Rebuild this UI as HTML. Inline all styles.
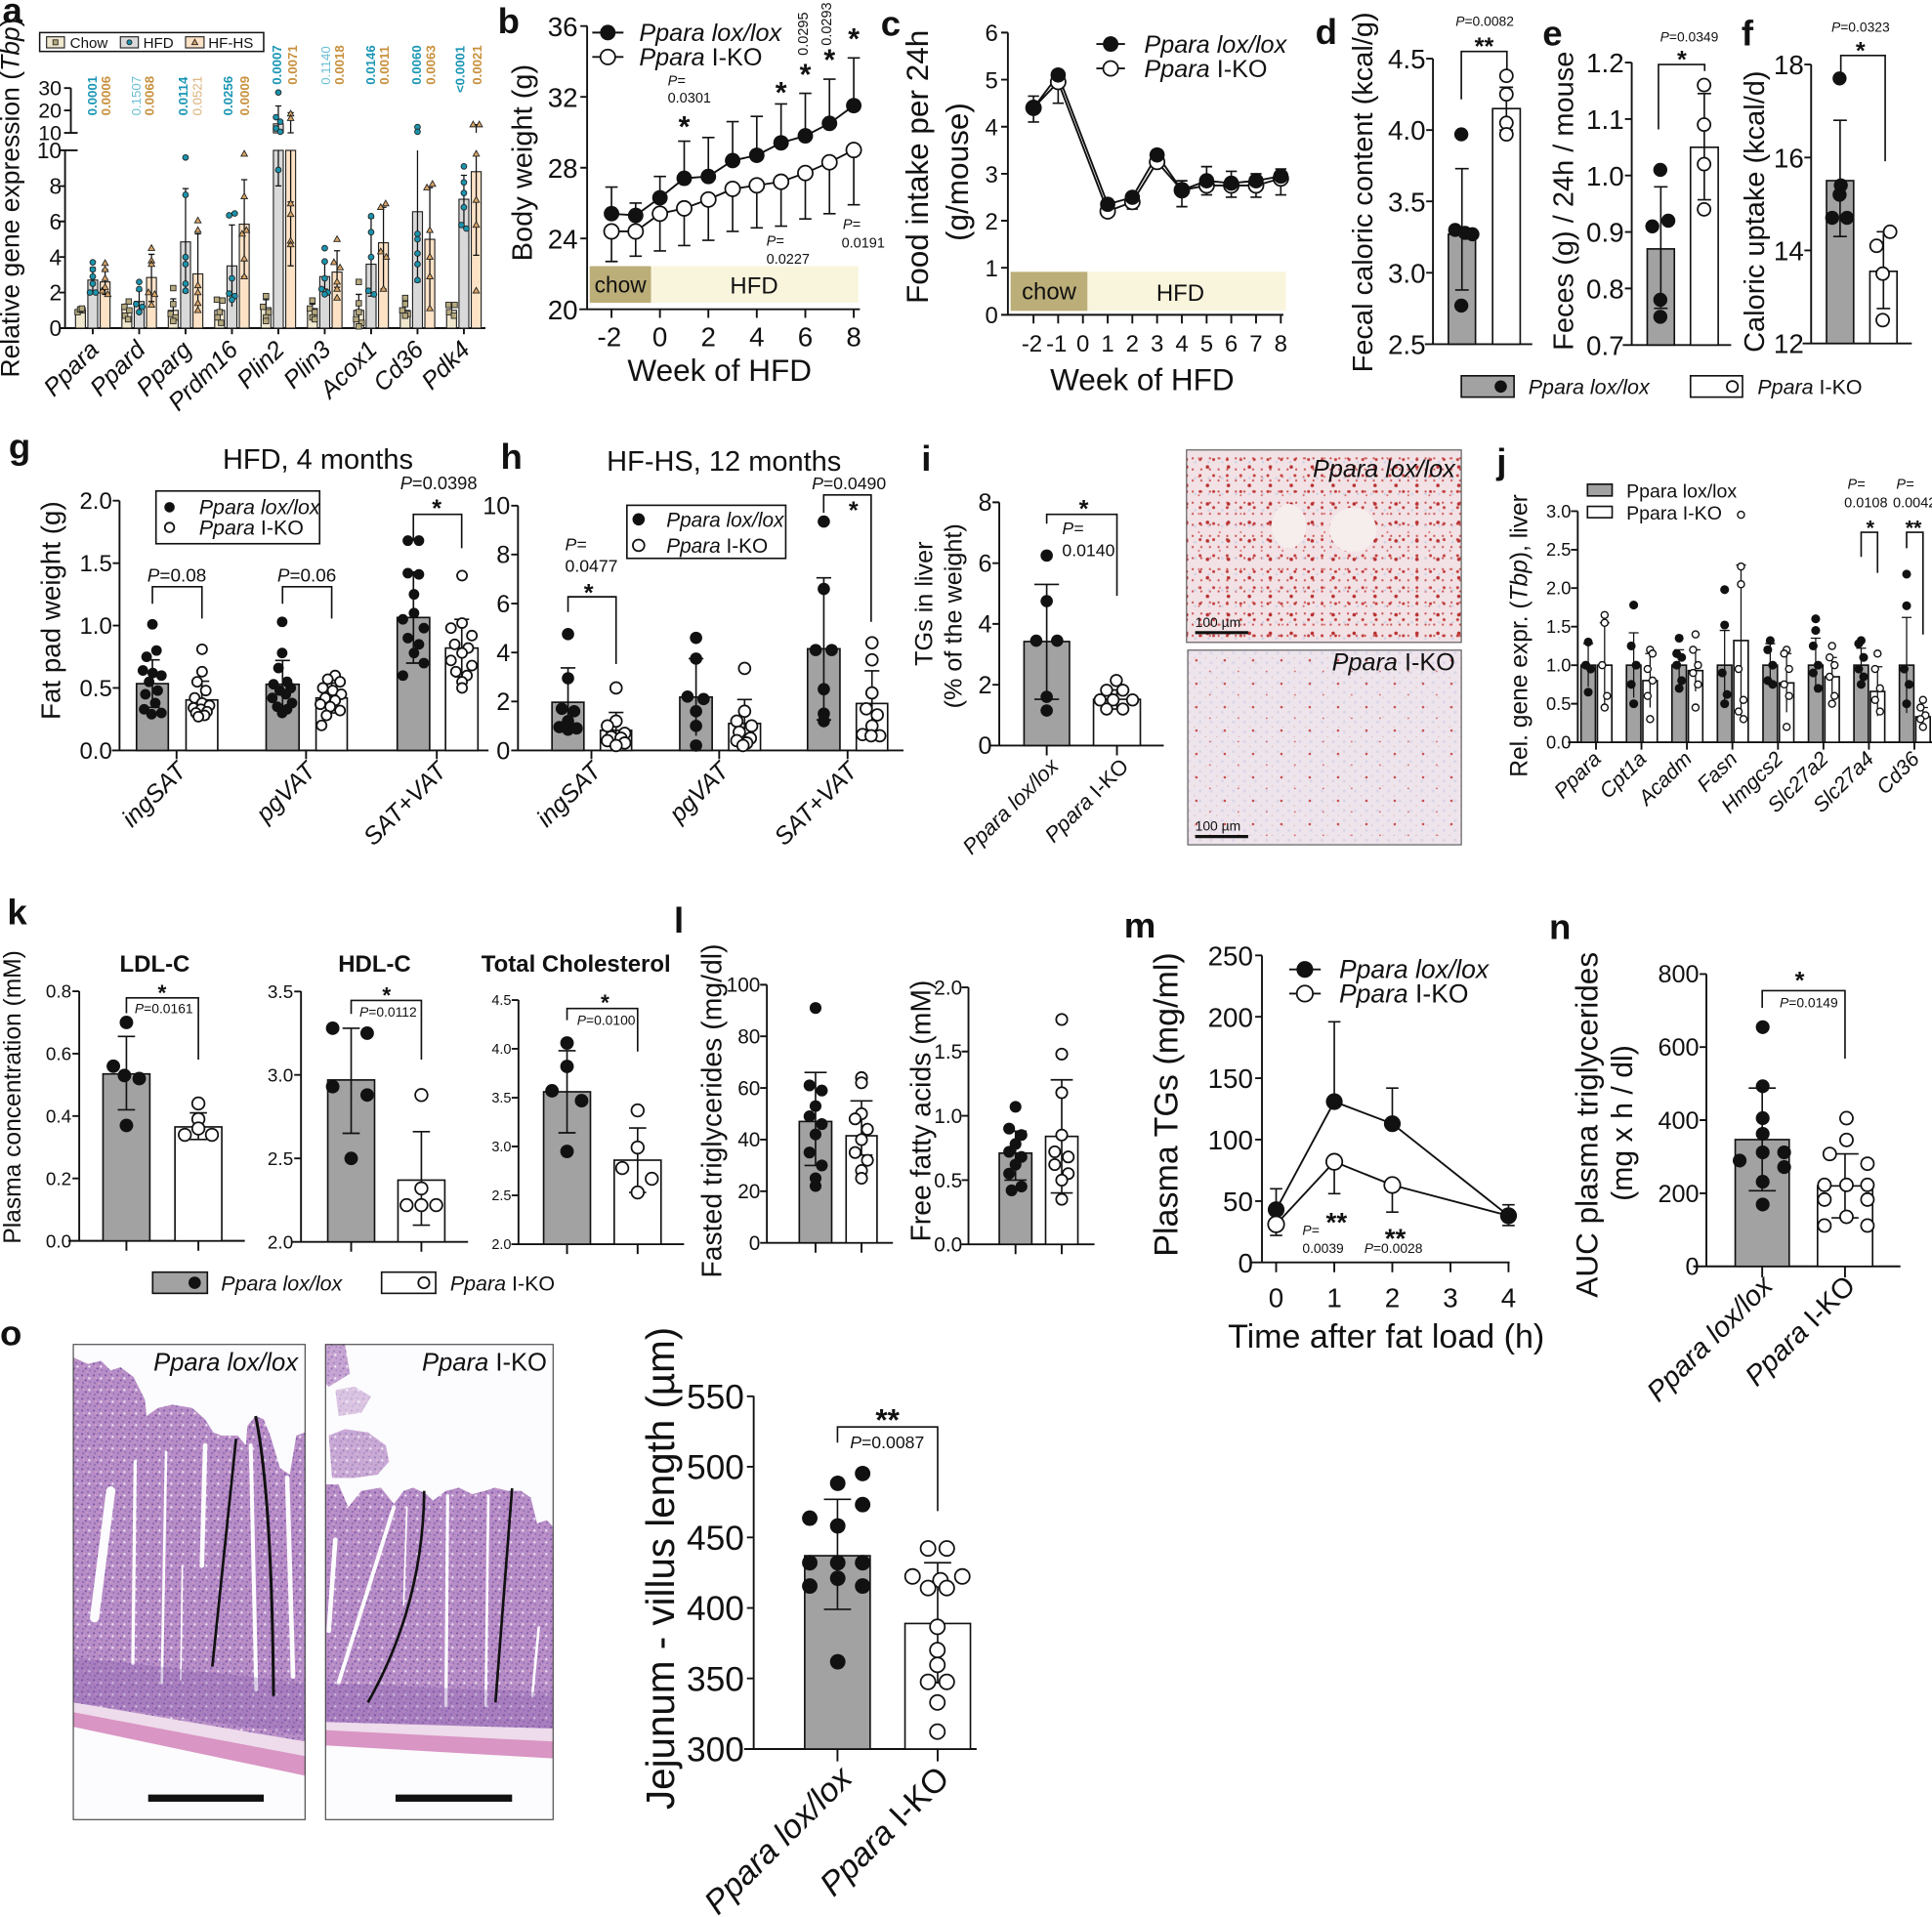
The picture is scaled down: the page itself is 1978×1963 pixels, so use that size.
<!DOCTYPE html>
<html><head><meta charset="utf-8"><style>
html,body{margin:0;padding:0;background:#fff;}
svg{display:block;}
text{font-family:"Liberation Sans",Arial,sans-serif;fill:#111;}
.pl{font-size:29px;font-weight:bold;}
.ax{stroke:#111;stroke-width:1.5;fill:none;}
.e{stroke:#111;stroke-width:1.3;fill:none;}
.ea{stroke:#111;stroke-width:1;fill:none;}
.f{fill:#111;}
.o{fill:#fff;stroke:#111;stroke-width:1.4;}
.oj{fill:#fff;stroke:#111;stroke-width:1.1;}
.g{fill:#a2a2a2;stroke:#111;stroke-width:1.3;}
.w{fill:#fff;stroke:#111;stroke-width:1.3;}
.it{font-style:italic;}
.sq{fill:#b5a97e;stroke:#222;stroke-width:.7;}
.cy{fill:#1a93ad;stroke:#222;stroke-width:.7;}
.tr{fill:#d9a466;stroke:#222;stroke-width:.7;}
.cb{fill:#efe8cf;stroke:#222;stroke-width:.9;}
.hb{fill:#d9d9d9;stroke:#222;stroke-width:.9;}
.pb{fill:#fde2c6;stroke:#222;stroke-width:.9;}
.ln{stroke:#111;stroke-width:1.5;fill:none;}
.br{stroke:#111;stroke-width:1.3;fill:none;}
</style></head><body>
<svg width="1978" height="1963" viewBox="0 0 1568 1556" xmlns="http://www.w3.org/2000/svg">
<defs>
<pattern id="lv1" width="7" height="9" patternUnits="userSpaceOnUse">
<rect width="7" height="9" fill="#f2e2e5"/>
<circle cx="2" cy="3" r="0.9" fill="#cc5656"/>
</pattern>
<pattern id="lv1b" width="11" height="13" patternUnits="userSpaceOnUse">
<circle cx="6" cy="9" r="1.2" fill="#c23e3e"/>
<circle cx="2" cy="11" r="1" fill="#ccd2e6"/>
</pattern>
<pattern id="lv1c" width="17" height="15" patternUnits="userSpaceOnUse">
<circle cx="11" cy="4" r="1.4" fill="#b83030"/>
<circle cx="4" cy="12" r="0.8" fill="#d77070"/>
</pattern>
<pattern id="lv2" width="9" height="8" patternUnits="userSpaceOnUse">
<rect width="9" height="8" fill="#eee4eb"/>
<circle cx="2" cy="2" r="1.2" fill="#dad6e9"/>
<circle cx="6.5" cy="6" r="0.5" fill="#dcaab0"/>
</pattern>
<pattern id="lv2b" width="23" height="19" patternUnits="userSpaceOnUse">
<circle cx="5" cy="4" r="1" fill="#c64c4c"/>
<circle cx="16" cy="13" r="0.7" fill="#cf6060"/>
</pattern>
<pattern id="he" width="36" height="36" patternUnits="userSpaceOnUse">
<rect width="36" height="36" fill="#b78dc7"/>
<circle cx="6" cy="7" r="3" fill="#74509f"/>
<circle cx="24" cy="5" r="2.6" fill="#7e5aa8"/>
<circle cx="17" cy="22" r="3" fill="#74509f"/>
<circle cx="31" cy="27" r="2.4" fill="#8460ac"/>
<circle cx="9" cy="30" r="2.6" fill="#7e5aa8"/>
<circle cx="28" cy="16" r="3.5" fill="#f0e6f2"/>
<circle cx="12" cy="15" r="3" fill="#d7a0ca"/>
<circle cx="22" cy="32" r="2.5" fill="#d49dc7"/>
</pattern>
</defs>
<rect width="1568" height="1556" fill="#fff"/>

<!-- ================= PANEL A ================= -->
<text x="2" y="18" class="pl">a</text>
<text transform="translate(15.5,160.5) rotate(-90)" text-anchor="middle" font-size="21">Relative gene expression (<tspan font-style="italic">Tbp</tspan>)</text>
<rect x="32.2" y="26.4" width="181.8" height="15.3" fill="#fff" stroke="#111" stroke-width="1.2"/>
<rect class="cb" x="37.8" y="29.8" width="14.5" height="9"/><rect class="sq" x="43" y="32.3" width="4" height="4"/>
<text x="56.8" y="38.8" font-size="12">Chow</text>
<rect class="hb" x="97.7" y="29.8" width="14.6" height="9"/><circle class="cy" cx="105" cy="34.3" r="2"/>
<text x="116.2" y="38.8" font-size="12">HFD</text>
<rect class="pb" x="150.6" y="29.8" width="15" height="9"/><path class="tr" d="M158.1,31.8l2.4,4.4h-4.8z"/>
<text x="169" y="38.8" font-size="12">HF-HS</text>
<path class="ax" d="M57.5,71.4V107.8M52,71.4h5.5M52,89.6h5.5M52,107.8h11M52.8,122V266.3M48,122h15M48,151h4.8M48,179.7h4.8M48,208.6h4.8M48,237.4h4.8M48,266.3H394M75.3,266.3v5M112.95,266.3v5M150.6,266.3v5M188.25,266.3v5M225.9,266.3v5M263.55,266.3v5M301.2,266.3v5M338.85,266.3v5M376.5,266.3v5"/>
<g font-size="17" text-anchor="end"><text x="50" y="77.4">30</text><text x="50" y="95.6">20</text><text x="50" y="113.8">10</text></g>
<g font-size="18" text-anchor="end"><text x="50" y="128.5">10</text><text x="50" y="157.4">8</text><text x="50" y="186.2">6</text><text x="50" y="215.1">4</text><text x="50" y="243.9">2</text><text x="50" y="272.8">0</text></g>
<!-- bars -->
<rect class="cb" x="61.3" y="251.9" width="8" height="14.4"/><rect class="hb" x="71.3" y="227.3" width="8" height="39"/><rect class="pb" x="81.3" y="228.8" width="8" height="37.5"/>
<rect class="cb" x="98.95" y="251.1" width="8" height="15.2"/><rect class="hb" x="108.95" y="244.7" width="8" height="21.6"/><rect class="pb" x="118.95" y="225.2" width="8" height="41.1"/>
<rect class="cb" x="136.6" y="251.9" width="8" height="14.4"/><rect class="hb" x="146.6" y="196.3" width="8" height="70"/><rect class="pb" x="156.6" y="222.3" width="8" height="44"/>
<rect class="cb" x="174.25" y="251.9" width="8" height="14.4"/><rect class="hb" x="184.25" y="215.8" width="8" height="50.5"/><rect class="pb" x="194.25" y="181.9" width="8" height="84.4"/>
<rect class="cb" x="211.9" y="249.7" width="8" height="16.6"/><rect class="hb" x="221.9" y="122" width="8" height="144.3"/><rect class="pb" x="231.9" y="122" width="8" height="144.3"/><rect class="hb" x="221.9" y="100.5" width="8" height="7.3"/>
<rect class="cb" x="249.55" y="250.4" width="8" height="15.9"/><rect class="hb" x="259.55" y="224.5" width="8" height="41.8"/><rect class="pb" x="269.55" y="220.8" width="8" height="45.5"/>
<rect class="cb" x="287.2" y="251.9" width="8" height="14.4"/><rect class="hb" x="297.2" y="214.4" width="8" height="51.9"/><rect class="pb" x="307.2" y="197" width="8" height="69.3"/>
<rect class="cb" x="324.85" y="251.9" width="8" height="14.4"/><rect class="hb" x="334.85" y="171.8" width="8" height="94.5"/><rect class="pb" x="344.85" y="194.2" width="8" height="72.1"/>
<rect class="cb" x="362.5" y="251.9" width="8" height="14.4"/><rect class="hb" x="372.5" y="161.7" width="8" height="104.6"/><rect class="pb" x="382.5" y="139.3" width="8" height="127"/>
<path class="ea" d="M65.3,254V249.7M62.8,249.7h5M75.3,237.4V217.2M72.8,217.2h5M72.8,237.4h5M85.3,238.9V218.7M82.8,218.7h5M82.8,238.9h5
M103,256.2V246.8M100.5,246.8h5M112.95,254V236M110.45,236h5M122.95,244.7V206.4M120.45,206.4h5M120.45,244.7h5
M140.6,259.1V242.5M138.1,242.5h5M150.6,237.4V153M148.1,153h5M148.1,237.4h5M160.6,251.9V189.8M158.1,189.8h5
M178.25,259.1V244.7M175.75,244.7h5M188.25,249V182.6M185.75,182.6h5M198.25,224.5V145.8M195.75,145.8h5M195.75,224.5h5
M215.9,256.2V243.2M213.4,243.2h5M225.9,150.9V122M223.4,150.9h5M225.9,107.8V86M223.4,86h5M235.9,215.8V122M233.4,215.8h5M233.4,163.8h5M235.9,107.8V91.4M233.4,91.4h5M233.4,107.8h5
M253.55,256.2V246.8M251.05,246.8h5M263.55,234.6V212.9M261.05,212.9h5M261.05,234.6h5M273.55,233.1V203.5M271.05,203.5h5M271.05,233.1h5
M291.2,262V238.9M288.7,238.9h5M301.2,240.3V176.8M298.7,176.8h5M298.7,240.3h5M311.2,234.6V168.2M308.7,168.2h5M308.7,234.6h5
M328.85,257.6V246.1M326.35,246.1h5M338.85,228.8V122M336.35,228.8h5M348.85,251.9V152.3M346.35,152.3h5M346.35,251.9h5
M366.5,256.2V247.5M364,247.5h5M376.5,184V142.2M374,142.2h5M374,184h5M386.5,207.1V122M384,207.1h5M386.5,107.8V101.1M384,101.1h5"/>
<!-- squares -->
<g class="sq">
<rect x="60.8" y="251.1" width="4.4" height="4.4"/><rect x="64.8" y="249.7" width="4.4" height="4.4"/><rect x="62.8" y="248.9" width="4.4" height="4.4"/><rect x="64.3" y="248.2" width="4.4" height="4.4"/>
<rect x="102.3" y="242.5" width="4.4" height="4.4"/><rect x="98.8" y="246.8" width="4.4" height="4.4"/><rect x="102.8" y="249.7" width="4.4" height="4.4"/><rect x="99.3" y="254" width="4.4" height="4.4"/><rect x="101.8" y="256.9" width="4.4" height="4.4"/>
<rect x="138.4" y="231.6" width="4.4" height="4.4"/><rect x="138.4" y="244.6" width="4.4" height="4.4"/><rect x="136.3" y="252.6" width="4.4" height="4.4"/><rect x="140.3" y="255.4" width="4.4" height="4.4"/><rect x="138.4" y="258.3" width="4.4" height="4.4"/>
<rect x="173.8" y="241" width="4.4" height="4.4"/><rect x="178.3" y="241.7" width="4.4" height="4.4"/><rect x="176.05" y="251.1" width="4.4" height="4.4"/><rect x="174.3" y="255.4" width="4.4" height="4.4"/><rect x="177.3" y="259.8" width="4.4" height="4.4"/>
<rect x="213.7" y="238.1" width="4.4" height="4.4"/><rect x="211.3" y="246.8" width="4.4" height="4.4"/><rect x="215.8" y="251.1" width="4.4" height="4.4"/><rect x="213.7" y="255.4" width="4.4" height="4.4"/><rect x="213.7" y="258.3" width="4.4" height="4.4"/>
<rect x="251.35" y="241.7" width="4.4" height="4.4"/><rect x="249.3" y="248.2" width="4.4" height="4.4"/><rect x="253.3" y="251.1" width="4.4" height="4.4"/><rect x="251.35" y="255.4" width="4.4" height="4.4"/><rect x="253.3" y="256.9" width="4.4" height="4.4"/>
<rect x="289" y="226.6" width="4.4" height="4.4"/><rect x="289" y="243.9" width="4.4" height="4.4"/><rect x="289" y="251.1" width="4.4" height="4.4"/><rect x="286.8" y="256.9" width="4.4" height="4.4"/><rect x="291.3" y="259.8" width="4.4" height="4.4"/><rect x="289" y="262.7" width="4.4" height="4.4"/>
<rect x="326.65" y="239.6" width="4.4" height="4.4"/><rect x="326.65" y="244.6" width="4.4" height="4.4"/><rect x="324.3" y="249.7" width="4.4" height="4.4"/><rect x="328.8" y="252.6" width="4.4" height="4.4"/><rect x="326.65" y="254" width="4.4" height="4.4"/>
<rect x="361.8" y="245.3" width="4.4" height="4.4"/><rect x="366.8" y="245.3" width="4.4" height="4.4"/><rect x="362.3" y="251.1" width="4.4" height="4.4"/><rect x="366.3" y="254" width="4.4" height="4.4"/>
</g>
<!-- circles -->
<g class="cy">
<circle cx="75.3" cy="212.9" r="2.3"/><circle cx="75.3" cy="218.7" r="2.3"/><circle cx="75.3" cy="224.5" r="2.3"/><circle cx="75.3" cy="230.2" r="2.3"/><circle cx="73" cy="237.4" r="2.3"/><circle cx="77.6" cy="237.4" r="2.3"/>
<circle cx="112.95" cy="228.8" r="2.3"/><circle cx="112.95" cy="234.6" r="2.3"/><circle cx="110.5" cy="246.8" r="2.3"/><circle cx="115.5" cy="249" r="2.3"/><circle cx="112.95" cy="253.3" r="2.3"/>
<circle cx="150.6" cy="127.8" r="2.3"/><circle cx="150.6" cy="158.1" r="2.3"/><circle cx="150.6" cy="208.6" r="2.3"/><circle cx="150.6" cy="214.4" r="2.3"/><circle cx="150.6" cy="230.2" r="2.3"/><circle cx="150.6" cy="236" r="2.3"/>
<circle cx="186" cy="174.7" r="2.3"/><circle cx="190.5" cy="173.2" r="2.3"/><circle cx="188.25" cy="225.9" r="2.3"/><circle cx="186" cy="238.2" r="2.3"/><circle cx="190.5" cy="240.3" r="2.3"/><circle cx="188.25" cy="243.2" r="2.3"/>
<circle cx="225.9" cy="137.9" r="2.3"/><circle cx="225.9" cy="75" r="2.3"/><circle cx="224" cy="95.1" r="2.3"/><circle cx="227.5" cy="98.7" r="2.3"/><circle cx="224" cy="104.2" r="2.3"/><circle cx="227.5" cy="106.9" r="2.3"/>
<circle cx="263.55" cy="201.4" r="2.3"/><circle cx="263.55" cy="212.2" r="2.3"/><circle cx="263.55" cy="225.9" r="2.3"/><circle cx="261" cy="234.6" r="2.3"/><circle cx="266" cy="237.4" r="2.3"/><circle cx="263.55" cy="238.9" r="2.3"/>
<circle cx="301.2" cy="175.4" r="2.3"/><circle cx="301.2" cy="188.4" r="2.3"/><circle cx="301.2" cy="208.6" r="2.3"/><circle cx="299" cy="236" r="2.3"/><circle cx="303.5" cy="238.9" r="2.3"/>
<circle cx="338.85" cy="189.8" r="2.3"/><circle cx="338.85" cy="194.2" r="2.3"/><circle cx="338.85" cy="205.7" r="2.3"/><circle cx="338.85" cy="214.4" r="2.3"/><circle cx="338.85" cy="227.3" r="2.3"/><circle cx="338.85" cy="103.1" r="2.3"/><circle cx="338.85" cy="106.9" r="2.3"/>
<circle cx="376.5" cy="135" r="2.3"/><circle cx="376.5" cy="148" r="2.3"/><circle cx="376.5" cy="156.6" r="2.3"/><circle cx="376.5" cy="168.2" r="2.3"/><circle cx="374.5" cy="182.6" r="2.3"/><circle cx="378.5" cy="185.5" r="2.3"/>
</g>
<!-- triangles -->
<path class="tr" d="M85.3,210.8l2.6,4.6h-5.2zM85.3,215.9l2.6,4.6h-5.2zM85.3,223.1l2.6,4.6h-5.2zM85.3,230.3l2.6,4.6h-5.2zM83,233.2l2.6,4.6h-5.2zM87.5,236.1l2.6,4.6h-5.2z
M122.95,198.6l2.6,4.6h-5.2zM122.95,208.7l2.6,4.6h-5.2zM122.95,211.6l2.6,4.6h-5.2zM120.5,234.6l2.6,4.6h-5.2zM125.5,236.1l2.6,4.6h-5.2zM122.95,244.7l2.6,4.6h-5.2z
M160.6,176.2l2.6,4.6h-5.2zM160.6,184.1l2.6,4.6h-5.2zM160.6,228.9l2.6,4.6h-5.2zM160.6,234.6l2.6,4.6h-5.2zM160.6,243.3l2.6,4.6h-5.2zM160.6,249.1l2.6,4.6h-5.2z
M198.25,122.1l2.6,4.6h-5.2zM198.25,156.7l2.6,4.6h-5.2zM200,184.1l2.6,4.6h-5.2zM196.5,187l2.6,4.6h-5.2zM198.25,207.2l2.6,4.6h-5.2zM198.25,221.7l2.6,4.6h-5.2z
M235.9,162.5l2.6,4.6h-5.2zM235.9,171.1l2.6,4.6h-5.2zM235.9,192.8l2.6,4.6h-5.2zM235.9,195.7l2.6,4.6h-5.2zM235.9,89.5l2.6,4.6h-5.2zM235.9,93.2l2.6,4.6h-5.2z
M273.55,191.4l2.6,4.6h-5.2zM271,210.1l2.6,4.6h-5.2zM276,214.4l2.6,4.6h-5.2zM273.55,226l2.6,4.6h-5.2zM273.55,231.8l2.6,4.6h-5.2zM273.55,239l2.6,4.6h-5.2z
M313,162.5l2.6,4.6h-5.2zM309,165.4l2.6,4.6h-5.2zM309,201.4l2.6,4.6h-5.2zM313.5,205.8l2.6,4.6h-5.2zM311.2,231.8l2.6,4.6h-5.2z
M351,146.6l2.6,4.6h-5.2zM346.5,149.5l2.6,4.6h-5.2zM348.85,184.1l2.6,4.6h-5.2zM348.85,205.8l2.6,4.6h-5.2zM348.85,221.7l2.6,4.6h-5.2zM348.85,247.6l2.6,4.6h-5.2z
M386.5,122.1l2.6,4.6h-5.2zM386.5,159.6l2.6,4.6h-5.2zM386.5,179.8l2.6,4.6h-5.2zM386.5,233.2l2.6,4.6h-5.2zM384,98.3l2.6,4.6h-5.2zM389,98.3l2.6,4.6h-5.2z"/>
<!-- p values -->
<g font-size="10.5">
<text transform="translate(78.6,93.8) rotate(-90)" style="fill:#1a96b4" font-weight="bold">0.0001</text>
<text transform="translate(89.7,93.8) rotate(-90)" style="fill:#c8903c" font-weight="bold">0.0006</text>
<text transform="translate(114.2,93.8) rotate(-90)" style="fill:#6cc0d4">0.1507</text>
<text transform="translate(124.8,93.8) rotate(-90)" style="fill:#c8903c" font-weight="bold">0.0068</text>
<text transform="translate(152.3,93.8) rotate(-90)" style="fill:#1a96b4" font-weight="bold">0.0114</text>
<text transform="translate(163.6,93.8) rotate(-90)" style="fill:#dab27a">0.0521</text>
<text transform="translate(188.8,93.8) rotate(-90)" style="fill:#1a96b4" font-weight="bold">0.0256</text>
<text transform="translate(202,93.8) rotate(-90)" style="fill:#c8903c" font-weight="bold">0.0009</text>
<text transform="translate(228.4,68.7) rotate(-90)" style="fill:#1a96b4" font-weight="bold">0.0007</text>
<text transform="translate(241.1,68.7) rotate(-90)" style="fill:#c8903c" font-weight="bold">0.0071</text>
<text transform="translate(268,68.7) rotate(-90)" style="fill:#6cc0d4">0.1140</text>
<text transform="translate(279.1,68.7) rotate(-90)" style="fill:#c8903c" font-weight="bold">0.0018</text>
<text transform="translate(304.5,68.7) rotate(-90)" style="fill:#1a96b4" font-weight="bold">0.0146</text>
<text transform="translate(315.6,68.7) rotate(-90)" style="fill:#c8903c" font-weight="bold">0.0011</text>
<text transform="translate(341.5,68.7) rotate(-90)" style="fill:#1a96b4" font-weight="bold">0.0060</text>
<text transform="translate(353.1,68.7) rotate(-90)" style="fill:#c8903c" font-weight="bold">0.0063</text>
<text transform="translate(376.9,75.3) rotate(-90)" style="fill:#1a96b4" font-weight="bold">&lt;0.0001</text>
<text transform="translate(390.9,68.7) rotate(-90)" style="fill:#c8903c" font-weight="bold">0.0021</text>
</g>
<g class="it" font-size="20" text-anchor="end">
<text transform="translate(81.3,285) rotate(-45)">Ppara</text>
<text transform="translate(119,285) rotate(-45)">Ppard</text>
<text transform="translate(156.6,285) rotate(-45)">Pparg</text>
<text transform="translate(194.3,285) rotate(-45)">Prdm16</text>
<text transform="translate(231.9,285) rotate(-45)">Plin2</text>
<text transform="translate(269.6,285) rotate(-45)">Plin3</text>
<text transform="translate(307.2,285) rotate(-45)">Acox1</text>
<text transform="translate(344.9,285) rotate(-45)">Cd36</text>
<text transform="translate(382.5,285) rotate(-45)">Pdk4</text>
</g>

<!-- ================= PANEL B ================= -->
<text x="404" y="27" class="pl">b</text>
<text transform="translate(431.7,132) rotate(-90)" text-anchor="middle" font-size="23">Body weight (g)</text>
<rect x="478.6" y="216" width="49.8" height="29.7" fill="#bcae78"/>
<rect x="528.4" y="216" width="168.2" height="29.7" fill="#f9f5dd"/>
<text x="503.5" y="237.5" font-size="18" text-anchor="middle">chow</text>
<text x="612" y="238" font-size="19" text-anchor="middle">HFD</text>
<path class="ax" d="M476.5,21V251M471,21.1h5.5M471,78.6h5.5M471,136.1h5.5M471,193.5h5.5M471,251h5.5M470.2,251H697.9M496.3,251v7M535.6,251v7M574.9,251v7M614.2,251v7M653.6,251v7M692.9,251v7"/>
<g font-size="22" text-anchor="end"><text x="469" y="29.1">36</text><text x="469" y="86.6">32</text><text x="469" y="144.1">28</text><text x="469" y="201.5">24</text><text x="469" y="259">20</text></g>
<g font-size="22" text-anchor="middle"><text x="494.5" y="281">-2</text><text x="535.6" y="281">0</text><text x="574.9" y="281">2</text><text x="614.2" y="281">4</text><text x="653.6" y="281">6</text><text x="692.9" y="281">8</text></g>
<text x="584" y="309" font-size="25" text-anchor="middle">Week of HFD</text>
<path class="e" d="M496.3,173.4V151.8M491.3,151.8h10M515.9,174.8V164.8M510.9,164.8h10M535.6,160.5V143.2M530.6,143.2h10M555.3,144.7V114.5M550.3,114.5h10M574.9,143.2V111.6M569.9,111.6h10M594.6,130.3V98.7M589.6,98.7h10M614.2,126V94.4M609.2,94.4h10M633.9,115.9V84.3M628.9,84.3h10M653.6,110.2V75.7M648.6,75.7h10M673.2,100.1V64.2M668.2,64.2h10M692.9,85.7V47M687.9,47h10"/>
<path class="e" d="M496.3,187.8V212.2M491.3,212.2h10M515.9,187.8V207.9M510.9,207.9h10M535.6,173.4V203.6M530.6,203.6h10M555.3,169.1V199.3M550.3,199.3h10M574.9,161.9V195M569.9,195h10M594.6,153.3V187.8M589.6,187.8h10M614.2,150.4V184.9M609.2,184.9h10M633.9,147.5V183.5M628.9,183.5h10M653.6,140.4V177.7M648.6,177.7h10M673.2,131.7V173.4M668.2,173.4h10M692.9,121.7V166.2M687.9,166.2h10"/>
<polyline class="ln" points="496.3,173.4 515.9,174.8 535.6,160.5 555.3,144.7 574.9,143.2 594.6,130.3 614.2,126 633.9,115.9 653.6,110.2 673.2,100.1 692.9,85.7"/>
<polyline class="ln" points="496.3,187.8 515.9,187.8 535.6,173.4 555.3,169.1 574.9,161.9 594.6,153.3 614.2,150.4 633.9,147.5 653.6,140.4 673.2,131.7 692.9,121.7"/>
<g class="f"><circle cx="496.3" cy="173.4" r="6.3"/><circle cx="515.9" cy="174.8" r="6.3"/><circle cx="535.6" cy="160.5" r="6.3"/><circle cx="555.3" cy="144.7" r="6.3"/><circle cx="574.9" cy="143.2" r="6.3"/><circle cx="594.6" cy="130.3" r="6.3"/><circle cx="614.2" cy="126" r="6.3"/><circle cx="633.9" cy="115.9" r="6.3"/><circle cx="653.6" cy="110.2" r="6.3"/><circle cx="673.2" cy="100.1" r="6.3"/><circle cx="692.9" cy="85.7" r="6.3"/></g>
<g class="o"><circle cx="496.3" cy="187.8" r="6"/><circle cx="515.9" cy="187.8" r="6"/><circle cx="535.6" cy="173.4" r="6"/><circle cx="555.3" cy="169.1" r="6"/><circle cx="574.9" cy="161.9" r="6"/><circle cx="594.6" cy="153.3" r="6"/><circle cx="614.2" cy="150.4" r="6"/><circle cx="633.9" cy="147.5" r="6"/><circle cx="653.6" cy="140.4" r="6"/><circle cx="673.2" cy="131.7" r="6"/><circle cx="692.9" cy="121.7" r="6"/></g>
<g font-size="24" font-weight="bold" text-anchor="middle"><text x="555.3" y="110.8">*</text><text x="633.9" y="83">*</text><text x="653.6" y="68.5">*</text><text x="673.2" y="56.6">*</text><text x="692.9" y="39.4">*</text></g>
<g font-size="11.5"><text x="541.9" y="69.2" class="it">P=</text><text x="541.9" y="83.2">0.0301</text><text x="622" y="199.5" class="it">P=</text><text x="622" y="214">0.0227</text><text x="684" y="185.7" class="it">P=</text><text x="683" y="200.8">0.0191</text>
<text transform="translate(655.5,45) rotate(-90)">0.0295</text><text transform="translate(674.5,37) rotate(-90)">0.0293</text></g>
<path class="ln" d="M480.7,26.4H506M480.7,46.2H506"/>
<circle class="f" cx="493.3" cy="26.4" r="6.3"/><circle class="o" cx="493.3" cy="46.2" r="6"/>
<text x="518.7" y="33.4" font-size="20" class="it">Ppara lox/lox</text>
<text x="518.7" y="53.2" font-size="20"><tspan font-style="italic">Ppara</tspan> I-KO</text>

<!-- ================= PANEL C ================= -->
<text x="714.8" y="29" class="pl">c</text>
<text transform="translate(753,135.4) rotate(-90)" text-anchor="middle" font-size="25">Food intake per 24h</text>
<text transform="translate(785.5,139.5) rotate(-90)" text-anchor="middle" font-size="25">(g/mouse)</text>
<rect x="820.2" y="220.6" width="62.4" height="31.7" fill="#bcae78"/>
<rect x="882.6" y="220.6" width="161.1" height="31.7" fill="#f9f5dd"/>
<text x="851.4" y="243" font-size="19" text-anchor="middle">chow</text>
<text x="958" y="244" font-size="19" text-anchor="middle">HFD</text>
<path class="ax" d="M818,26.4V255.5M812.5,26.4h5.5M812.5,64.6h5.5M812.5,102.8h5.5M812.5,141h5.5M812.5,179.1h5.5M812.5,217.3h5.5M812.5,255.5h5.5M813.9,255.5H1041.6M838.8,255.5v7M858.8,255.5v7M878.9,255.5v7M899,255.5v7M919,255.5v7M939.1,255.5v7M959.2,255.5v7M979.3,255.5v7M999.3,255.5v7M1019.4,255.5v7M1039.5,255.5v7"/>
<g font-size="19" text-anchor="end"><text x="810" y="33.4">6</text><text x="810" y="71.6">5</text><text x="810" y="109.8">4</text><text x="810" y="148">3</text><text x="810" y="186.1">2</text><text x="810" y="224.3">1</text><text x="810" y="262.5">0</text></g>
<g font-size="19" text-anchor="middle"><text x="837.5" y="285.5">-2</text><text x="857.5" y="285.5">-1</text><text x="878.9" y="285.5">0</text><text x="899" y="285.5">1</text><text x="919" y="285.5">2</text><text x="939.1" y="285.5">3</text><text x="959.2" y="285.5">4</text><text x="979.3" y="285.5">5</text><text x="999.3" y="285.5">6</text><text x="1019.4" y="285.5">7</text><text x="1039.5" y="285.5">8</text></g>
<text x="927" y="316.5" font-size="25" text-anchor="middle">Week of HFD</text>
<path class="e" d="M838.8,99V78M834.3,78h9M834.3,99h9M858.8,83.7V57M854.3,57h9M854.3,83.7h9M899,171.5V162M894.5,162h9M894.5,171.5h9M919,169.6V158.1M914.5,158.1h9M914.5,169.6h9M939.1,133.3V121.9M934.6,121.9h9M934.6,133.3h9M959.2,167.7V146.7M954.7,146.7h9M954.7,167.7h9M979.3,158.1V135.2M974.8,135.2h9M974.8,158.1h9M999.3,160V139M994.8,139h9M994.8,160h9M1019.4,160V141M1014.9,141h9M1014.9,160h9M1039.5,158.1V137.1M1035,137.1h9M1035,158.1h9"/>
<polyline class="ln" points="838.8,87.5 858.8,66.5 899,171.5 919,163.9 939.1,131.4 959.2,154.3 979.3,150.5 999.3,150.5 1019.4,150.5 1039.5,144.8"/>
<polyline class="ln" points="838.8,87.5 858.8,60.8 899,165.8 919,160.1 939.1,125.7 959.2,154.3 979.3,146.7 999.3,148.6 1019.4,146.7 1039.5,142.9"/>
<g class="o"><circle cx="838.8" cy="87.5" r="6"/><circle cx="858.8" cy="66.5" r="6"/><circle cx="899" cy="171.5" r="6"/><circle cx="919" cy="163.9" r="6"/><circle cx="939.1" cy="131.4" r="6"/><circle cx="959.2" cy="154.3" r="6"/><circle cx="979.3" cy="150.5" r="6"/><circle cx="999.3" cy="150.5" r="6"/><circle cx="1019.4" cy="150.5" r="6"/><circle cx="1039.5" cy="144.8" r="6"/></g>
<g class="f"><circle cx="838.8" cy="87.5" r="6.2"/><circle cx="858.8" cy="60.8" r="6.2"/><circle cx="899" cy="165.8" r="6.2"/><circle cx="919" cy="160.1" r="6.2"/><circle cx="939.1" cy="125.7" r="6.2"/><circle cx="959.2" cy="154.3" r="6.2"/><circle cx="979.3" cy="146.7" r="6.2"/><circle cx="999.3" cy="148.6" r="6.2"/><circle cx="1019.4" cy="146.7" r="6.2"/><circle cx="1039.5" cy="142.9" r="6.2"/></g>
<path class="ln" d="M889.8,35.7H913M889.8,55.5H913"/>
<circle class="f" cx="901.4" cy="35.7" r="6.3"/><circle class="o" cx="901.4" cy="55.5" r="6"/>
<text x="928.6" y="42.7" font-size="20" class="it">Ppara lox/lox</text>
<text x="928.6" y="62.5" font-size="20"><tspan font-style="italic">Ppara</tspan> I-KO</text>

<!-- ================= PANEL D ================= -->
<text x="1067.5" y="35.7" class="pl">d</text>
<text transform="translate(1113.7,156) rotate(-90)" text-anchor="middle" font-size="23">Fecal caloric content (kcal/g)</text>
<path class="ax" d="M1163,47.6V279.3M1157.5,47.6h5.5M1157.5,105.5h5.5M1157.5,163.4h5.5M1157.5,221.4h5.5M1157.5,279.3h5.5M1156.4,279.3H1243.6"/>
<g font-size="22" text-anchor="end"><text x="1157" y="55.6">4.5</text><text x="1157" y="113.5">4.0</text><text x="1157" y="171.4">3.5</text><text x="1157" y="229.4">3.0</text><text x="1157" y="287.3">2.5</text></g>
<rect class="g" x="1175.5" y="190.1" width="22" height="89.2"/>
<rect class="w" x="1211.4" y="88.1" width="22.4" height="191.2"/>
<path class="e" d="M1186.5,235.3V136.8M1181,136.8h11M1181,235.3h11M1222.6,105.5V70.8M1217,70.8h11M1217,105.5h11"/>
<g class="f"><circle cx="1186" cy="109" r="5.7"/><circle cx="1181" cy="186.6" r="5.7"/><circle cx="1189" cy="189" r="5.7"/><circle cx="1195" cy="190.1" r="5.7"/><circle cx="1186" cy="248" r="5.7"/></g>
<g class="o"><circle cx="1222.6" cy="61.5" r="5.2"/><circle cx="1222.6" cy="76.5" r="5.2"/><circle cx="1222.6" cy="99.7" r="5.2"/><circle cx="1222.6" cy="109" r="5.2"/></g>
<path class="br" d="M1186,80.6V41.7H1223V56.8"/>
<text x="1204.5" y="44.4" font-size="20" font-weight="bold" text-anchor="middle">**</text>
<text x="1205" y="21.1" font-size="11" text-anchor="middle"><tspan font-style="italic">P</tspan>=0.0082</text>

<!-- ================= PANEL E ================= -->
<text x="1251.9" y="37" class="pl">e</text>
<text transform="translate(1276.7,163) rotate(-90)" text-anchor="middle" font-size="23">Feces (g) / 24h / mouse</text>
<path class="ax" d="M1324.3,50.7V280M1318.8,50.7h5.5M1318.8,96.6h5.5M1318.8,142.4h5.5M1318.8,188.3h5.5M1318.8,234.1h5.5M1318.8,280h5.5M1317,280H1405"/>
<g font-size="22" text-anchor="end"><text x="1318" y="58.7">1.2</text><text x="1318" y="104.6">1.1</text><text x="1318" y="150.4">1.0</text><text x="1318" y="196.3">0.9</text><text x="1318" y="242.1">0.8</text><text x="1318" y="288">0.7</text></g>
<rect class="g" x="1336.9" y="202" width="22" height="78"/>
<rect class="w" x="1372" y="119.5" width="22.5" height="160.5"/>
<path class="e" d="M1347.9,250.2V151.6M1342.4,151.6h11M1342.4,250.2h11M1383.2,162.1V75.9M1377.7,75.9h11M1377.7,162.1h11"/>
<g class="f"><circle cx="1347.5" cy="137.8" r="5.7"/><circle cx="1341" cy="183.7" r="5.7"/><circle cx="1354" cy="179.1" r="5.7"/><circle cx="1347.5" cy="243.3" r="5.7"/><circle cx="1347.5" cy="257.1" r="5.7"/></g>
<g class="o"><circle cx="1383" cy="69" r="5.2"/><circle cx="1383" cy="101.1" r="5.2"/><circle cx="1383" cy="133.2" r="5.2"/><circle cx="1383" cy="169.9" r="5.2"/></g>
<path class="br" d="M1346,105V52.3H1383.5V57.6"/>
<text x="1365" y="55" font-size="20" font-weight="bold" text-anchor="middle">*</text>
<text x="1371" y="33.8" font-size="11" text-anchor="middle"><tspan font-style="italic">P</tspan>=0.0349</text>

<!-- ================= PANEL F ================= -->
<text x="1413.3" y="37" class="pl">f</text>
<text transform="translate(1431.5,171.7) rotate(-90)" text-anchor="middle" font-size="23">Caloric uptake (kcal/d)</text>
<path class="ax" d="M1469.9,52.3V278.7M1464.4,52.3h5.5M1464.4,127.8h5.5M1464.4,203.2h5.5M1464.4,278.7h5.5M1463,278.7H1551.6"/>
<g font-size="22" text-anchor="end"><text x="1464" y="60.3">18</text><text x="1464" y="135.8">16</text><text x="1464" y="211.2">14</text><text x="1464" y="286.7">12</text></g>
<rect class="g" x="1482.4" y="146.6" width="22" height="132.1"/>
<rect class="w" x="1517.6" y="220.2" width="22" height="58.5"/>
<path class="e" d="M1493.4,191.9V97.6M1487.9,97.6h11M1487.9,191.9h11M1528.6,250.4V188.1M1523.1,188.1h11M1523.1,250.4h11"/>
<g class="f"><circle cx="1493" cy="63.6" r="5.7"/><circle cx="1494" cy="150.4" r="5.7"/><circle cx="1493" cy="158" r="5.7"/><circle cx="1487" cy="176.8" r="5.7"/><circle cx="1499" cy="176.8" r="5.7"/></g>
<g class="o"><circle cx="1534" cy="188.1" r="5.2"/><circle cx="1523" cy="199.5" r="5.2"/><circle cx="1528" cy="222.1" r="5.2"/><circle cx="1528" cy="259.8" r="5.2"/></g>
<path class="br" d="M1494,60.8V45H1530V130.8"/>
<text x="1510" y="48" font-size="20" font-weight="bold" text-anchor="middle">*</text>
<text x="1510" y="25.9" font-size="11" text-anchor="middle"><tspan font-style="italic">P</tspan>=0.0323</text>
<!-- legend d-f -->
<rect class="g" x="1186" y="305" width="42.8" height="17.3"/><circle class="f" cx="1218" cy="313.7" r="5"/>
<text x="1240.4" y="320" font-size="17" class="it">Ppara lox/lox</text>
<rect class="w" x="1372" y="305" width="42.2" height="17.3"/><circle class="o" cx="1406" cy="313.7" r="4.5"/>
<text x="1426.4" y="320" font-size="17"><tspan font-style="italic">Ppara</tspan> I-KO</text>

<!-- ================= PANEL G ================= -->
<text x="7" y="372" class="pl">g</text>
<text x="258" y="380.5" font-size="23" text-anchor="middle">HFD, 4 months</text>
<text transform="translate(48.6,495.5) rotate(-90)" text-anchor="middle" font-size="22">Fat pad weight (g)</text>
<path class="ax" d="M97,406.4V609.1M91.5,406.4h5.5M91.5,457.1h5.5M91.5,507.7h5.5M91.5,558.4h5.5M91.5,609.1h5.5M90.8,609.1H396.5M143.3,609.1v7M248.4,609.1v7M354.5,609.1v7"/>
<g font-size="19" text-anchor="end"><text x="91" y="413.1">2.0</text><text x="91" y="463.8">1.5</text><text x="91" y="514.4">1.0</text><text x="91" y="565.1">0.5</text><text x="91" y="615.8">0.0</text></g>
<rect class="g" x="110.8" y="554.9" width="25.8" height="54.2"/><rect class="w" x="151" y="568.1" width="25.7" height="41"/>
<rect class="g" x="216" y="555.4" width="26.7" height="53.7"/><rect class="w" x="256.5" y="566.5" width="25.3" height="42.6"/>
<rect class="g" x="322.4" y="501.2" width="26.3" height="107.9"/><rect class="w" x="361.6" y="526" width="26.3" height="83.1"/>
<path class="e" d="M123.7,574.1V535.6M117.7,535.6h12M117.7,574.1h12M163.85,583.3V552.9M157.85,552.9h12M157.85,583.3h12M229.35,574.6V536.1M223.35,536.1h12M223.35,574.6h12M269.15,578.7V554.4M263.15,554.4h12M263.15,578.7h12M335.55,538.2V464.2M329.55,464.2h12M329.55,538.2h12M374.75,549.3V502.7M368.75,502.7h12M368.75,549.3h12"/>
<g class="f">
<circle cx="123.7" cy="506.7" r="4.3"/><circle cx="127" cy="528" r="4.3"/><circle cx="119" cy="533.1" r="4.3"/><circle cx="116" cy="544.2" r="4.3"/><circle cx="124" cy="546.3" r="4.3"/><circle cx="131" cy="548.3" r="4.3"/><circle cx="121" cy="553.4" r="4.3"/><circle cx="128" cy="560.5" r="4.3"/><circle cx="118" cy="563.5" r="4.3"/><circle cx="126" cy="570.6" r="4.3"/><circle cx="117" cy="575.7" r="4.3"/><circle cx="131" cy="578.7" r="4.3"/><circle cx="123" cy="579.7" r="4.3"/>
<circle cx="229" cy="504.7" r="4.3"/><circle cx="229" cy="530" r="4.3"/><circle cx="226" cy="542.2" r="4.3"/><circle cx="233" cy="553.4" r="4.3"/><circle cx="222" cy="555.4" r="4.3"/><circle cx="236" cy="558.4" r="4.3"/><circle cx="227" cy="560.5" r="4.3"/><circle cx="232" cy="563.5" r="4.3"/><circle cx="221" cy="566.5" r="4.3"/><circle cx="237" cy="570.6" r="4.3"/><circle cx="225" cy="573.6" r="4.3"/><circle cx="233" cy="575.7" r="4.3"/><circle cx="229" cy="578.7" r="4.3"/>
<circle cx="331" cy="438.8" r="4.3"/><circle cx="340" cy="438.8" r="4.3"/><circle cx="331" cy="465.2" r="4.3"/><circle cx="340" cy="466.2" r="4.3"/><circle cx="336" cy="482.4" r="4.3"/><circle cx="336" cy="497.6" r="4.3"/><circle cx="327" cy="502.7" r="4.3"/><circle cx="344" cy="509.8" r="4.3"/><circle cx="331" cy="517.9" r="4.3"/><circle cx="340" cy="523" r="4.3"/><circle cx="336" cy="530" r="4.3"/><circle cx="344" cy="538.2" r="4.3"/><circle cx="327" cy="548.3" r="4.3"/>
</g>
<g class="o">
<circle cx="164" cy="527" r="4"/><circle cx="164" cy="545.2" r="4"/><circle cx="160" cy="553.4" r="4"/><circle cx="167" cy="560.5" r="4"/><circle cx="158" cy="566.5" r="4"/><circle cx="164" cy="570.6" r="4"/><circle cx="170" cy="572.6" r="4"/><circle cx="157" cy="574.6" r="4"/><circle cx="163" cy="575.7" r="4"/><circle cx="168" cy="577.7" r="4"/><circle cx="159" cy="578.7" r="4"/><circle cx="166" cy="580.7" r="4"/><circle cx="161" cy="581.7" r="4"/>
<circle cx="272" cy="548.3" r="4"/><circle cx="266" cy="551.3" r="4"/><circle cx="276" cy="553.4" r="4"/><circle cx="262" cy="558.4" r="4"/><circle cx="270" cy="560.5" r="4"/><circle cx="277" cy="563.5" r="4"/><circle cx="264" cy="566.5" r="4"/><circle cx="272" cy="568.6" r="4"/><circle cx="260" cy="571.6" r="4"/><circle cx="268" cy="573.6" r="4"/><circle cx="276" cy="576.7" r="4"/><circle cx="265" cy="580.7" r="4"/><circle cx="261" cy="588.8" r="4"/>
<circle cx="375" cy="467.2" r="4"/><circle cx="375" cy="505.7" r="4"/><circle cx="366" cy="509.8" r="4"/><circle cx="383" cy="515.9" r="4"/><circle cx="369" cy="523" r="4"/><circle cx="380" cy="526" r="4"/><circle cx="375" cy="530" r="4"/><circle cx="366" cy="536.1" r="4"/><circle cx="383" cy="540.2" r="4"/><circle cx="370" cy="545.2" r="4"/><circle cx="379" cy="548.3" r="4"/><circle cx="375" cy="553.4" r="4"/><circle cx="375" cy="558.4" r="4"/>
</g>
<path class="br" d="M123.7,490V476.2H163.9V502M229.3,490V476.2H269.2V502M335.5,439V417.5H374.7V445"/>
<text x="143.5" y="472" font-size="15" text-anchor="middle"><tspan font-style="italic">P</tspan>=0.08</text>
<text x="249" y="472" font-size="15" text-anchor="middle"><tspan font-style="italic">P</tspan>=0.06</text>
<text x="354.5" y="419.4" font-size="20" font-weight="bold" text-anchor="middle">*</text>
<text x="356" y="397.2" font-size="14.5" text-anchor="middle"><tspan font-style="italic">P</tspan>=0.0398</text>
<rect x="126.6" y="398.5" width="132.8" height="42.8" fill="#fff" stroke="#111" stroke-width="1.3"/>
<circle class="f" cx="137.6" cy="411.7" r="4.2"/><circle class="o" cx="137.6" cy="428.1" r="3.8"/>
<text x="161.5" y="417.5" font-size="17" class="it">Ppara lox/lox</text>
<text x="161.5" y="434" font-size="17"><tspan font-style="italic">Ppara</tspan> I-KO</text>
<g class="it" font-size="20" text-anchor="end">
<text transform="translate(152.3,627) rotate(-45)">ingSAT</text>
<text transform="translate(257.4,627) rotate(-45)">pgVAT</text>
<text transform="translate(363.5,627) rotate(-45)">SAT+VAT</text>
</g>

<!-- ================= PANEL H ================= -->
<text x="406.3" y="380.5" class="pl">h</text>
<text x="587.6" y="382" font-size="23" text-anchor="middle">HF-HS, 12 months</text>
<path class="ax" d="M420.4,410.4V609.1M414.9,410.4h5.5M414.9,450.1h5.5M414.9,489.9h5.5M414.9,529.6h5.5M414.9,569.4h5.5M414.9,609.1h5.5M415.6,609.1H733.3M480,609.1v7M583.7,609.1v7M687.9,609.1v7"/>
<g font-size="20" text-anchor="end"><text x="414" y="417.4">10</text><text x="414" y="457.1">8</text><text x="414" y="496.9">6</text><text x="414" y="536.6">4</text><text x="414" y="576.4">2</text><text x="414" y="616.1">0</text></g>
<rect class="g" x="448" y="570" width="25.9" height="39.1"/><rect class="w" x="487.3" y="592.8" width="25.3" height="16.3"/>
<rect class="g" x="551.7" y="565.8" width="26.3" height="43.3"/><rect class="w" x="591.4" y="587.2" width="25.8" height="21.9"/>
<rect class="g" x="655.4" y="526.6" width="26.3" height="82.5"/><rect class="w" x="695" y="571" width="25.4" height="38.1"/>
<path class="e" d="M461,597.2V542.1M455,542.1h12M500,607.1V578.3M494,578.3h12M564.9,597.2V534.6M558.9,534.6h12M604.3,606.7V567.8M598.3,567.8h12M668.6,584.3V469M662.6,469h12M662.6,584.3h12M707.7,597.2V544.5M701.7,544.5h12M701.7,597.2h12"/>
<g class="f">
<circle cx="461" cy="514.7" r="5"/><circle cx="461" cy="550.5" r="5"/><circle cx="456" cy="575.3" r="5"/><circle cx="466" cy="577.3" r="5"/><circle cx="461" cy="585.3" r="5"/><circle cx="454" cy="590.2" r="5"/><circle cx="468" cy="591.2" r="5"/><circle cx="461" cy="592.2" r="5"/>
<circle cx="564.9" cy="517.7" r="5"/><circle cx="564.9" cy="534.6" r="5"/><circle cx="558" cy="565.4" r="5"/><circle cx="571" cy="567.4" r="5"/><circle cx="564.9" cy="577.3" r="5"/><circle cx="564.9" cy="589.2" r="5"/><circle cx="564.9" cy="605.1" r="5"/>
<circle cx="668.6" cy="423.3" r="5"/><circle cx="668.6" cy="478" r="5"/><circle cx="662" cy="527.6" r="5"/><circle cx="675" cy="527.6" r="5"/><circle cx="668.6" cy="559.4" r="5"/><circle cx="668.6" cy="579.3" r="5"/><circle cx="668.6" cy="585.3" r="5"/>
</g>
<g class="o">
<circle cx="500" cy="558.4" r="4.7"/><circle cx="500" cy="585.3" r="4.7"/><circle cx="493" cy="589.2" r="4.7"/><circle cx="507" cy="595.2" r="4.7"/><circle cx="496" cy="598.2" r="4.7"/><circle cx="504" cy="599.2" r="4.7"/><circle cx="493" cy="601.2" r="4.7"/><circle cx="507" cy="603.1" r="4.7"/><circle cx="500" cy="605.1" r="4.7"/>
<circle cx="604.3" cy="542.5" r="4.7"/><circle cx="604.3" cy="577.3" r="4.7"/><circle cx="598" cy="585.3" r="4.7"/><circle cx="610" cy="589.2" r="4.7"/><circle cx="600" cy="594.2" r="4.7"/><circle cx="609" cy="599.2" r="4.7"/><circle cx="598" cy="601.2" r="4.7"/><circle cx="606" cy="603.1" r="4.7"/><circle cx="603" cy="605.1" r="4.7"/>
<circle cx="707.7" cy="521.7" r="4.7"/><circle cx="707.7" cy="535.6" r="4.7"/><circle cx="707.7" cy="562.4" r="4.7"/><circle cx="703" cy="575.3" r="4.7"/><circle cx="712" cy="580.3" r="4.7"/><circle cx="707.7" cy="589.2" r="4.7"/><circle cx="700" cy="596.2" r="4.7"/><circle cx="714" cy="597.2" r="4.7"/><circle cx="707" cy="597.2" r="4.7"/>
</g>
<path class="br" d="M461,496.8V484.4H500V539M668.5,416.2V401.7H707V504.7"/>
<text x="477.7" y="488" font-size="20" font-weight="bold" text-anchor="middle">*</text>
<text x="458.6" y="446.5" font-size="14" class="it">P=</text>
<text x="458.6" y="464" font-size="14">0.0477</text>
<text x="692.7" y="421" font-size="20" font-weight="bold" text-anchor="middle">*</text>
<text x="689" y="397" font-size="14" text-anchor="middle"><tspan font-style="italic">P</tspan>=0.0490</text>
<rect x="508.8" y="410.1" width="128.9" height="43.1" fill="#fff" stroke="#111" stroke-width="1.3"/>
<circle class="f" cx="518.3" cy="421.5" r="5"/><circle class="o" cx="518.3" cy="442.6" r="4.7"/>
<text x="540.8" y="427.5" font-size="16.5" class="it">Ppara lox/lox</text>
<text x="540.8" y="448.5" font-size="16.5"><tspan font-style="italic">Ppara</tspan> I-KO</text>
<g class="it" font-size="20" text-anchor="end">
<text transform="translate(489,627) rotate(-45)">ingSAT</text>
<text transform="translate(592.7,627) rotate(-45)">pgVAT</text>
<text transform="translate(696.9,627) rotate(-45)">SAT+VAT</text>
</g>

<!-- ================= PANEL I ================= -->
<text x="747.7" y="381.9" class="pl">i</text>
<text transform="translate(756.7,490) rotate(-90)" text-anchor="middle" font-size="20">TGs in liver</text>
<text transform="translate(780.5,500) rotate(-90)" text-anchor="middle" font-size="20">(% of the weight)</text>
<path class="ax" d="M811,407.7V605.1M805.5,407.7h5.5M805.5,457.1h5.5M805.5,506.4h5.5M805.5,555.8h5.5M805.5,605.1h5.5M804.2,605.1H944.5M849.5,605.1v8M906.5,605.1v8"/>
<g font-size="20" text-anchor="end"><text x="805" y="414.7">8</text><text x="805" y="464.1">6</text><text x="805" y="513.4">4</text><text x="805" y="562.8">2</text><text x="805" y="612.1">0</text></g>
<rect class="g" x="831.1" y="520.7" width="36.9" height="84.4"/><rect class="w" x="887.5" y="567.6" width="38" height="37.5"/>
<path class="e" d="M849.5,567.6V474.3M839.5,474.3h20M839.5,567.6h20M906.5,575.5V560M896.5,560h20M896.5,575.5h20"/>
<g class="f"><circle cx="849.5" cy="450.9" r="5"/><circle cx="849.5" cy="487.9" r="5"/><circle cx="841" cy="520" r="5"/><circle cx="858" cy="520" r="5"/><circle cx="849.5" cy="565.6" r="5"/><circle cx="849.5" cy="576.7" r="5"/></g>
<g class="o"><circle cx="906" cy="552.3" r="4.6"/><circle cx="898.1" cy="560.2" r="4.6"/><circle cx="911.3" cy="560.2" r="4.6"/><circle cx="892.8" cy="568.1" r="4.6"/><circle cx="903.4" cy="568.1" r="4.6"/><circle cx="919.2" cy="568.1" r="4.6"/><circle cx="898.1" cy="575.5" r="4.6"/><circle cx="911.3" cy="575.5" r="4.6"/></g>
<path class="br" d="M849.5,425V417.5H906.5V483.6"/>
<text x="879.6" y="419.5" font-size="20" font-weight="bold" text-anchor="middle">*</text>
<text x="862" y="433.5" font-size="14" class="it">P=</text>
<text x="862" y="451.5" font-size="14">0.0140</text>
<g class="it" font-size="17.5" text-anchor="end">
<text transform="translate(860,623) rotate(-45)">Ppara lox/lox</text>
<text transform="translate(917,623) rotate(-45)"><tspan>Ppara</tspan><tspan font-style="normal"> I-KO</tspan></text>
</g>
<!-- liver images -->
<rect x="963" y="365.2" width="223" height="156.2" fill="url(#lv1)"/>
<rect x="963" y="365.2" width="223" height="156.2" fill="url(#lv1b)"/>
<rect x="963" y="365.2" width="223" height="156.2" fill="url(#lv1c)"/>
<ellipse cx="1046" cy="427" rx="14" ry="18" fill="#f6eded"/>
<ellipse cx="1098" cy="430" rx="19" ry="18" fill="#f6eded"/>
<rect x="963" y="365.2" width="223" height="156.2" fill="none" stroke="#555" stroke-width="0.9"/>
<text x="1181" y="387" font-size="20" class="it" text-anchor="end">Ppara lox/lox</text>
<text x="970" y="509" font-size="11">100 µm</text>
<path d="M970,513.5h43" stroke="#111" stroke-width="2.5"/>
<rect x="964" y="527.7" width="222" height="158" fill="url(#lv2)"/>
<rect x="964" y="527.7" width="222" height="158" fill="url(#lv2b)"/>
<rect x="964" y="527.7" width="222" height="158" fill="none" stroke="#555" stroke-width="0.9"/>
<text x="1181" y="544.3" font-size="20" text-anchor="end"><tspan font-style="italic">Ppara</tspan> I-KO</text>
<text x="970" y="674" font-size="11">100 µm</text>
<path d="M970,679h43" stroke="#111" stroke-width="2.5"/>

<!-- ================= PANEL J ================= -->
<text x="1214.6" y="384.5" class="pl">j</text>
<text transform="translate(1239.5,516) rotate(-90)" text-anchor="middle" font-size="19.5">Rel. gene expr. (<tspan font-style="italic">Tbp</tspan>), liver</text>
<path class="ax" d="M1280.5,414.9V602.5M1275,414.9h5.5M1275,446.2h5.5M1275,477.3h5.5M1275,508.6h5.5M1275,539.9h5.5M1275,571.2h5.5M1275,602.5h5.5M1272.6,602.5H1572M1295.3,602.5v6M1332.2,602.5v6M1369.1,602.5v6M1406,602.5v6M1443,602.5v6M1479.9,602.5v6M1516.8,602.5v6M1553.7,602.5v6"/>
<g font-size="14.5" text-anchor="end"><text x="1275" y="419.9">3.0</text><text x="1275" y="451.2">2.5</text><text x="1275" y="482.3">2.0</text><text x="1275" y="513.6">1.5</text><text x="1275" y="544.9">1.0</text><text x="1275" y="576.2">0.5</text><text x="1275" y="607.5">0.0</text></g>
<g class="g">
<rect x="1283.15" y="539.9" width="11.7" height="62.6"/><rect x="1320.05" y="539.9" width="11.7" height="62.6"/><rect x="1356.95" y="539.9" width="11.7" height="62.6"/><rect x="1393.85" y="539.9" width="11.7" height="62.6"/><rect x="1430.85" y="539.9" width="11.7" height="62.6"/><rect x="1467.75" y="539.9" width="11.7" height="62.6"/><rect x="1504.65" y="539.9" width="11.7" height="62.6"/><rect x="1541.55" y="539.9" width="11.7" height="62.6"/>
</g>
<g class="w">
<rect x="1296.45" y="539.9" width="11.7" height="62.6"/><rect x="1333.35" y="552.4" width="11.7" height="50.1"/><rect x="1370.25" y="544.3" width="11.7" height="58.2"/><rect x="1407.15" y="519.9" width="11.7" height="82.6"/><rect x="1444.15" y="554.3" width="11.7" height="48.2"/><rect x="1481.05" y="549.3" width="11.7" height="53.2"/><rect x="1517.95" y="561.2" width="11.7" height="41.3"/><rect x="1554.85" y="581.8" width="11.7" height="20.7"/>
</g>
<path class="ea" d="M1289,557.4V522.4M1285,522.4h8M1325.9,566.2V513.6M1321.9,513.6h8M1362.8,552.4V527.4M1358.8,527.4h8M1399.7,568.1V511.7M1395.7,511.7h8M1436.7,557.4V522.4M1432.7,522.4h8M1473.6,561.8V518M1469.6,518h8M1510.5,553.7V526.1M1506.5,526.1h8M1547.4,578.7V501.1M1543.4,501.1h8
M1302.3,574.3V505.5M1298.3,505.5h8M1339.2,574.3V530.5M1335.2,530.5h8M1376.1,561.2V527.4M1372.1,527.4h8M1413,581.2V458.5M1409,458.5h8M1450,578.1V530.5M1446,530.5h8M1486.9,564.9V533.6M1482.9,533.6h8M1523.8,581.2V541.2M1519.8,541.2h8M1560.7,589.4V574.3M1556.7,574.3h8"/>
<g class="f">
<circle cx="1289" cy="521.1" r="3.6"/><circle cx="1287" cy="539.9" r="3.6"/><circle cx="1291" cy="543" r="3.6"/><circle cx="1289" cy="561.8" r="3.6"/>
<circle cx="1325.9" cy="491.1" r="3.6"/><circle cx="1323.9" cy="524.3" r="3.6"/><circle cx="1327.9" cy="539.9" r="3.6"/><circle cx="1323.9" cy="555.5" r="3.6"/><circle cx="1325.9" cy="571.2" r="3.6"/>
<circle cx="1362.8" cy="518" r="3.6"/><circle cx="1360.8" cy="530.5" r="3.6"/><circle cx="1364.8" cy="533.6" r="3.6"/><circle cx="1360.8" cy="539.9" r="3.6"/><circle cx="1364.8" cy="552.4" r="3.6"/><circle cx="1362.8" cy="558.7" r="3.6"/>
<circle cx="1399.7" cy="478.6" r="3.6"/><circle cx="1399.7" cy="507.3" r="3.6"/><circle cx="1397.7" cy="546.2" r="3.6"/><circle cx="1401.7" cy="563.7" r="3.6"/><circle cx="1399.7" cy="571.2" r="3.6"/>
<circle cx="1436.7" cy="519.9" r="3.6"/><circle cx="1434.7" cy="527.4" r="3.6"/><circle cx="1438.7" cy="539.9" r="3.6"/><circle cx="1434.7" cy="552.4" r="3.6"/><circle cx="1438.7" cy="555.5" r="3.6"/>
<circle cx="1473.6" cy="502.3" r="3.6"/><circle cx="1473.6" cy="511.7" r="3.6"/><circle cx="1471.6" cy="524.3" r="3.6"/><circle cx="1475.6" cy="539.9" r="3.6"/><circle cx="1471.6" cy="546.2" r="3.6"/><circle cx="1475.6" cy="558.7" r="3.6"/>
<circle cx="1510.5" cy="519.9" r="3.6"/><circle cx="1508.5" cy="522.4" r="3.6"/><circle cx="1512.5" cy="533.6" r="3.6"/><circle cx="1508.5" cy="543" r="3.6"/><circle cx="1512.5" cy="549.3" r="3.6"/><circle cx="1510.5" cy="555.5" r="3.6"/>
<circle cx="1547.4" cy="466" r="3.6"/><circle cx="1547.4" cy="491.7" r="3.6"/><circle cx="1545.4" cy="543" r="3.6"/><circle cx="1549.4" cy="555.5" r="3.6"/><circle cx="1547.4" cy="571.2" r="3.6"/>
</g>
<g class="oj">
<circle cx="1302.3" cy="499.2" r="2.8"/><circle cx="1302.3" cy="505.5" r="2.8"/><circle cx="1300.3" cy="539.9" r="2.8"/><circle cx="1304.3" cy="564.9" r="2.8"/><circle cx="1302.3" cy="574.3" r="2.8"/>
<circle cx="1339.2" cy="527.4" r="2.8"/><circle cx="1341.2" cy="530.5" r="2.8"/><circle cx="1337.2" cy="543" r="2.8"/><circle cx="1341.2" cy="552.4" r="2.8"/><circle cx="1337.2" cy="564.9" r="2.8"/><circle cx="1339.2" cy="583.7" r="2.8"/>
<circle cx="1376.1" cy="514.9" r="2.8"/><circle cx="1374.1" cy="527.4" r="2.8"/><circle cx="1378.1" cy="539.9" r="2.8"/><circle cx="1374.1" cy="546.2" r="2.8"/><circle cx="1378.1" cy="555.5" r="2.8"/><circle cx="1376.1" cy="574.3" r="2.8"/>
<circle cx="1413" cy="417.8" r="2.8"/><circle cx="1413" cy="459.8" r="2.8"/><circle cx="1413" cy="474.2" r="2.8"/><circle cx="1411" cy="543" r="2.8"/><circle cx="1415" cy="568.1" r="2.8"/><circle cx="1411" cy="577.5" r="2.8"/><circle cx="1415" cy="583.7" r="2.8"/>
<circle cx="1450" cy="527.4" r="2.8"/><circle cx="1448" cy="530.5" r="2.8"/><circle cx="1452" cy="543" r="2.8"/><circle cx="1448" cy="555.5" r="2.8"/><circle cx="1452" cy="564.9" r="2.8"/><circle cx="1450" cy="590" r="2.8"/>
<circle cx="1486.9" cy="524.3" r="2.8"/><circle cx="1484.9" cy="533.6" r="2.8"/><circle cx="1488.9" cy="539.9" r="2.8"/><circle cx="1484.9" cy="549.3" r="2.8"/><circle cx="1488.9" cy="564.9" r="2.8"/><circle cx="1486.9" cy="571.2" r="2.8"/>
<circle cx="1523.8" cy="530.5" r="2.8"/><circle cx="1521.8" cy="543" r="2.8"/><circle cx="1525.8" cy="558.7" r="2.8"/><circle cx="1521.8" cy="568.1" r="2.8"/><circle cx="1525.8" cy="577.5" r="2.8"/>
<circle cx="1560.7" cy="568.1" r="2.8"/><circle cx="1558.7" cy="574.3" r="2.8"/><circle cx="1562.7" cy="580.6" r="2.8"/><circle cx="1558.7" cy="583.7" r="2.8"/><circle cx="1560.7" cy="590" r="2.8"/>
</g>
<rect class="g" x="1288.4" y="393" width="20" height="9.5"/>
<text x="1320" y="404" font-size="15.5">Ppara lox/lox</text>
<rect class="w" x="1288.4" y="411" width="20" height="9.2"/>
<text x="1320" y="421.5" font-size="15.5">Ppara I-KO</text>
<g font-size="11.5"><text x="1499.4" y="396.9" class="it">P=</text><text x="1496.8" y="411.7">0.0108</text><text x="1539" y="396.9" class="it">P=</text><text x="1536.3" y="411.7">0.0042</text></g>
<path class="br" d="M1510.5,452V432H1523.8V465M1547.4,445V432H1560.7V515"/>
<text x="1517.9" y="434" font-size="17" font-weight="bold" text-anchor="middle">*</text>
<text x="1553" y="434" font-size="17" font-weight="bold" text-anchor="middle">**</text>
<g class="it" font-size="17" text-anchor="end">
<text transform="translate(1300.3,617) rotate(-45)">Ppara</text>
<text transform="translate(1337.2,617) rotate(-45)">Cpt1a</text>
<text transform="translate(1374.1,617) rotate(-45)">Acadm</text>
<text transform="translate(1411,617) rotate(-45)">Fasn</text>
<text transform="translate(1448,617) rotate(-45)">Hmgcs2</text>
<text transform="translate(1484.9,617) rotate(-45)">Slc27a2</text>
<text transform="translate(1521.8,617) rotate(-45)">Slc27a4</text>
<text transform="translate(1558.7,617) rotate(-45)">Cd36</text>
</g>

<!-- ================= PANEL K ================= -->
<text x="5.8" y="750.4" class="pl">k</text>
<text transform="translate(16.5,890.5) rotate(-90)" text-anchor="middle" font-size="19.5">Plasma concentration (mM)</text>
<g font-size="19" font-weight="bold" text-anchor="middle"><text x="125.6" y="788.7">LDL-C</text><text x="304" y="788.7">HDL-C</text><text x="467.5" y="788.7">Total Cholesterol</text></g>
<!-- LDL -->
<path class="ax" d="M64.3,804.6V1007.2M58.8,804.6h5.5M58.8,855.2h5.5M58.8,905.9h5.5M58.8,956.5h5.5M58.8,1007.2h5.5M55.5,1007.2H198.7M102.6,1007.2v8M161,1007.2v8"/>
<g font-size="15" text-anchor="end"><text x="58" y="809.9">0.8</text><text x="58" y="860.5">0.6</text><text x="58" y="911.2">0.4</text><text x="58" y="961.8">0.2</text><text x="58" y="1012.5">0.0</text></g>
<rect class="g" x="83.6" y="871.7" width="38" height="135.5"/><rect class="w" x="142" y="914.7" width="38" height="92.5"/>
<path class="e" d="M102.6,900.8V841.3M95.6,841.3h14M95.6,900.8h14M161,924.9V903.3M154,903.3h14M154,924.9h14"/>
<g class="f"><circle cx="102.6" cy="829.9" r="5.5"/><circle cx="92" cy="865.4" r="5.5"/><circle cx="101" cy="873" r="5.5"/><circle cx="113" cy="875.5" r="5.5"/><circle cx="102.6" cy="913.5" r="5.5"/></g>
<g class="o"><circle cx="161" cy="895.7" r="5"/><circle cx="161" cy="908.4" r="5"/><circle cx="161" cy="916" r="5"/><circle cx="150" cy="921.1" r="5"/><circle cx="172" cy="921.1" r="5"/></g>
<path class="br" d="M102.6,822.4V810H161V860"/>
<text x="131.5" y="812" font-size="18" font-weight="bold" text-anchor="middle">*</text>
<text x="133" y="822.3" font-size="11" text-anchor="middle"><tspan font-style="italic">P</tspan>=0.0161</text>
<!-- HDL -->
<path class="ax" d="M244.3,804.6V1008M238.8,804.8h5.5M238.8,872.5h5.5M238.8,940.3h5.5M238.8,1008h5.5M236.7,1008H379.9M285,1008v8M342,1008v8"/>
<g font-size="15" text-anchor="end"><text x="238" y="810.1">3.5</text><text x="238" y="877.8">3.0</text><text x="238" y="945.6">2.5</text><text x="238" y="1013.3">2.0</text></g>
<rect class="g" x="266" y="876.6" width="38" height="131.4"/><rect class="w" x="323" y="957.9" width="38" height="50.1"/>
<path class="e" d="M285,919.9V834.6M278,834.6h14M278,919.9h14M342,994.5V918.6M335,918.6h14M335,994.5h14"/>
<g class="f"><circle cx="270" cy="834.6" r="5.5"/><circle cx="298" cy="838.6" r="5.5"/><circle cx="270" cy="882" r="5.5"/><circle cx="298" cy="888.8" r="5.5"/><circle cx="285" cy="940.3" r="5.5"/></g>
<g class="o"><circle cx="342" cy="888.8" r="5"/><circle cx="342" cy="964.6" r="5"/><circle cx="330" cy="978.2" r="5"/><circle cx="342" cy="978.2" r="5"/><circle cx="354" cy="978.2" r="5"/></g>
<path class="br" d="M285,823V812H342V860"/>
<text x="313.8" y="814" font-size="18" font-weight="bold" text-anchor="middle">*</text>
<text x="315" y="825" font-size="11" text-anchor="middle"><tspan font-style="italic">P</tspan>=0.0112</text>
<!-- TC -->
<path class="ax" d="M420.8,811.7V1009.9M415.3,811.7h5.5M415.3,851.3h5.5M415.3,891h5.5M415.3,930.6h5.5M415.3,970.3h5.5M415.3,1009.9h5.5M415,1009.9H555.2M460.2,1009.9v8M517.5,1009.9v8"/>
<g font-size="11.5" text-anchor="end"><text x="415" y="815.7">4.5</text><text x="415" y="855.3">4.0</text><text x="415" y="895">3.5</text><text x="415" y="934.6">3.0</text><text x="415" y="974.3">2.5</text><text x="415" y="1013.9">2.0</text></g>
<rect class="g" x="441.2" y="886.2" width="38" height="123.7"/><rect class="w" x="498.5" y="941.7" width="38" height="68.2"/>
<path class="e" d="M460.2,919.5V852.9M453.2,852.9h14M453.2,919.5h14M517.5,967.9V915.6M510.5,915.6h14M510.5,967.9h14"/>
<g class="f"><circle cx="460.2" cy="846.6" r="5.5"/><circle cx="460.2" cy="865.6" r="5.5"/><circle cx="448" cy="885.4" r="5.5"/><circle cx="472" cy="893.4" r="5.5"/><circle cx="460.2" cy="934.6" r="5.5"/></g>
<g class="o"><circle cx="517.5" cy="901.3" r="5"/><circle cx="517.5" cy="931.4" r="5"/><circle cx="505" cy="948.1" r="5"/><circle cx="529" cy="956.8" r="5"/><circle cx="517.5" cy="967.9" r="5"/></g>
<path class="br" d="M460.2,828V818.6H517.5V853.5"/>
<text x="491" y="820" font-size="18" font-weight="bold" text-anchor="middle">*</text>
<text x="492" y="832" font-size="11" text-anchor="middle"><tspan font-style="italic">P</tspan>=0.0100</text>
<!-- legend k -->
<rect class="g" x="123.9" y="1032.6" width="44.4" height="17.2"/><circle class="f" cx="158" cy="1041.2" r="5"/>
<text x="179.4" y="1047.5" font-size="17" class="it">Ppara lox/lox</text>
<rect class="w" x="309.7" y="1032.6" width="43.9" height="17.2"/><circle class="o" cx="344" cy="1041.2" r="4.5"/>
<text x="365.3" y="1047.5" font-size="17"><tspan font-style="italic">Ppara</tspan> I-KO</text>

<!-- ================= PANEL L ================= -->
<text x="547" y="757" class="pl">l</text>
<text transform="translate(585.6,901.7) rotate(-90)" text-anchor="middle" font-size="22.5">Fasted triglycerides (mg/dl)</text>
<path class="ax" d="M622.4,799.3V1008.8M616.9,799.3h5.5M616.9,841.2h5.5M616.9,883.1h5.5M616.9,925h5.5M616.9,966.9h5.5M616.9,1008.8h5.5M619.5,1008.8H724.7M661.9,1008.8v8M699.2,1008.8v8"/>
<g font-size="16.5" text-anchor="end"><text x="617" y="805.1">100</text><text x="617" y="847">80</text><text x="617" y="888.9">60</text><text x="617" y="930.8">40</text><text x="617" y="972.7">20</text><text x="617" y="1014.6">0</text></g>
<rect class="g" x="648.7" y="910.3" width="26.3" height="98.5"/><rect class="w" x="686.7" y="921.9" width="25.1" height="86.9"/>
<path class="e" d="M661.9,946V870.5M652.9,870.5h18M652.9,946h18M699.2,937.6V893.6M690.2,893.6h18M690.2,937.6h18"/>
<g class="f"><circle cx="661.9" cy="818.2" r="4.8"/><circle cx="657" cy="881" r="4.8"/><circle cx="667" cy="885.2" r="4.8"/><circle cx="661.9" cy="897.8" r="4.8"/><circle cx="657" cy="906.1" r="4.8"/><circle cx="667" cy="912.4" r="4.8"/><circle cx="661.9" cy="920.8" r="4.8"/><circle cx="657" cy="935.5" r="4.8"/><circle cx="667" cy="946" r="4.8"/><circle cx="661.9" cy="956.4" r="4.8"/><circle cx="661.9" cy="962.7" r="4.8"/></g>
<g class="o"><circle cx="699.2" cy="874.7" r="4.5"/><circle cx="699.2" cy="878.9" r="4.5"/><circle cx="699.2" cy="904" r="4.5"/><circle cx="694" cy="908.2" r="4.5"/><circle cx="704" cy="916.6" r="4.5"/><circle cx="699.2" cy="925" r="4.5"/><circle cx="694" cy="935.5" r="4.5"/><circle cx="704" cy="941.8" r="4.5"/><circle cx="699.2" cy="950.1" r="4.5"/><circle cx="699.2" cy="956.4" r="4.5"/></g>
<text transform="translate(755,901.7) rotate(-90)" text-anchor="middle" font-size="22.5">Free fatty acids (mM)</text>
<path class="ax" d="M786,801.4V1010M780.5,801.4h5.5M780.5,853.5h5.5M780.5,905.7h5.5M780.5,957.9h5.5M780.5,1010h5.5M780.2,1010H888.3M824.2,1010v8M861.7,1010v8"/>
<g font-size="16.5" text-anchor="end"><text x="781" y="807.2">2.0</text><text x="781" y="859.3">1.5</text><text x="781" y="911.5">1.0</text><text x="781" y="963.7">0.5</text><text x="781" y="1015.8">0.0</text></g>
<rect class="g" x="811" y="936" width="26.4" height="74"/><rect class="w" x="848.6" y="922.4" width="26.2" height="87.6"/>
<path class="e" d="M824.2,957.9V918.2M815.2,918.2h18M815.2,957.9h18M861.7,968.3V876.5M852.7,876.5h18M852.7,968.3h18"/>
<g class="f"><circle cx="824.2" cy="898.4" r="4.8"/><circle cx="819" cy="916.1" r="4.8"/><circle cx="829" cy="921.3" r="4.8"/><circle cx="824.2" cy="928.6" r="4.8"/><circle cx="819" cy="934.9" r="4.8"/><circle cx="829" cy="939.1" r="4.8"/><circle cx="824.2" cy="945.3" r="4.8"/><circle cx="819" cy="952.6" r="4.8"/><circle cx="829" cy="963.1" r="4.8"/><circle cx="821" cy="966.2" r="4.8"/></g>
<g class="o"><circle cx="861.7" cy="827.5" r="4.5"/><circle cx="861.7" cy="855.6" r="4.5"/><circle cx="861.7" cy="886.9" r="4.5"/><circle cx="861.7" cy="921.3" r="4.5"/><circle cx="856" cy="934.9" r="4.5"/><circle cx="867" cy="939.1" r="4.5"/><circle cx="856" cy="945.3" r="4.5"/><circle cx="867" cy="952.6" r="4.5"/><circle cx="861.7" cy="957.9" r="4.5"/><circle cx="861.7" cy="973.5" r="4.5"/></g>

<!-- ================= PANEL M ================= -->
<text x="912.2" y="761" class="pl">m</text>
<text transform="translate(955.5,896.5) rotate(-90)" text-anchor="middle" font-size="27">Plasma TGs (mg/ml)</text>
<path class="ax" d="M1024.2,775.5V1024.7M1018.7,775.5h5.5M1018.7,825.3h5.5M1018.7,875.2h5.5M1018.7,925h5.5M1018.7,974.9h5.5M1018.7,1024.7h5.5M1014.4,1024.7H1225.2M1035.7,1024.7v8M1082.9,1024.7v8M1130,1024.7v8M1177.2,1024.7v8M1224.3,1024.7v8"/>
<g font-size="22" text-anchor="end"><text x="1017" y="783.5">250</text><text x="1017" y="833.3">200</text><text x="1017" y="883.2">150</text><text x="1017" y="933">100</text><text x="1017" y="982.9">50</text><text x="1017" y="1032.7">0</text></g>
<g font-size="22" text-anchor="middle"><text x="1035.7" y="1061">0</text><text x="1082.9" y="1061">1</text><text x="1130" y="1061">2</text><text x="1177.2" y="1061">3</text><text x="1224.3" y="1061">4</text></g>
<text x="1125" y="1094" font-size="27" text-anchor="middle">Time after fat load (h)</text>
<path class="e" d="M1035.7,981.9V964.9M1030.7,964.9h10M1082.9,894.2V829.4M1077.9,829.4h10M1130,912.1V883.2M1125,883.2h10M1224.3,986.8V977.9M1219.3,977.9h10"/>
<path class="e" d="M1035.7,993.8V1002.8M1030.7,1002.8h10M1082.9,943V968.9M1077.9,968.9h10M1130,961.9V983.9M1125,983.9h10M1224.3,986.8V994.8M1219.3,994.8h10"/>
<polyline class="ln" points="1035.7,981.9 1082.9,894.2 1130,912.1 1224.3,986.8"/>
<polyline class="ln" points="1035.7,993.8 1082.9,943 1130,961.9 1224.3,986.8"/>
<g class="f"><circle cx="1035.7" cy="981.9" r="6.8"/><circle cx="1082.9" cy="894.2" r="6.8"/><circle cx="1130" cy="912.1" r="6.8"/><circle cx="1224.3" cy="986.8" r="6.8"/></g>
<g class="o"><circle cx="1035.7" cy="993.8" r="6.5"/><circle cx="1082.9" cy="943" r="6.5"/><circle cx="1130" cy="961.9" r="6.5"/></g>
<circle class="f" cx="1224.3" cy="986.8" r="6.8"/>
<text x="1084.7" y="999.5" font-size="22" font-weight="bold" text-anchor="middle">**</text>
<text x="1132.4" y="1012.5" font-size="22" font-weight="bold" text-anchor="middle">**</text>
<text x="1057" y="1002.5" font-size="11" class="it">P=</text>
<text x="1057" y="1017" font-size="11">0.0039</text>
<text x="1107.2" y="1017" font-size="11"><tspan font-style="italic">P</tspan>=0.0028</text>
<path class="ln" d="M1046.3,786.9H1071.9M1046.3,806.5H1071.9"/>
<circle class="f" cx="1059" cy="786.9" r="6.8"/><circle class="o" cx="1059" cy="806.5" r="6.5"/>
<text x="1086.8" y="794" font-size="21" class="it">Ppara lox/lox</text>
<text x="1086.8" y="813.6" font-size="21"><tspan font-style="italic">Ppara</tspan> I-KO</text>

<!-- ================= PANEL N ================= -->
<text x="1257.3" y="762.3" class="pl">n</text>
<text transform="translate(1296.5,913) rotate(-90)" text-anchor="middle" font-size="25">AUC plasma triglycerides</text>
<text transform="translate(1324.5,911.6) rotate(-90)" text-anchor="middle" font-size="24">(mg x h / dl)</text>
<path class="ax" d="M1384.9,790.6V1027.9M1379.4,790.6h5.5M1379.4,849.9h5.5M1379.4,909.2h5.5M1379.4,968.6h5.5M1379.4,1027.9h5.5M1374.2,1027.9H1542.4M1430.2,1027.9v9M1497.4,1027.9v9"/>
<g font-size="20" text-anchor="end"><text x="1379" y="797.6">800</text><text x="1379" y="856.9">600</text><text x="1379" y="916.2">400</text><text x="1379" y="975.6">200</text><text x="1379" y="1034.9">0</text></g>
<rect class="g" x="1408.3" y="925" width="43.8" height="102.9"/><rect class="w" x="1475.1" y="962.6" width="44.7" height="65.3"/>
<path class="e" d="M1430.2,966.5V883.2M1419.2,883.2h22M1419.2,966.5h22M1497.4,988.5V936.6M1486.4,936.6h22M1486.4,988.5h22"/>
<g class="f"><circle cx="1430.6" cy="833.7" r="5.6"/><circle cx="1430.6" cy="881.7" r="5.6"/><circle cx="1430.6" cy="907.6" r="5.6"/><circle cx="1430.6" cy="920.3" r="5.6"/><circle cx="1430.6" cy="935.4" r="5.6"/><circle cx="1448" cy="935.4" r="5.6"/><circle cx="1411.9" cy="942" r="5.6"/><circle cx="1448" cy="947.3" r="5.6"/><circle cx="1430.6" cy="959.2" r="5.6"/><circle cx="1430.6" cy="977.7" r="5.6"/></g>
<g class="o"><circle cx="1498.6" cy="907.6" r="5.2"/><circle cx="1498.6" cy="925.3" r="5.2"/><circle cx="1485" cy="936.7" r="5.2"/><circle cx="1515.6" cy="944.6" r="5.2"/><circle cx="1480.7" cy="961.8" r="5.2"/><circle cx="1498.6" cy="961.8" r="5.2"/><circle cx="1515.6" cy="961.8" r="5.2"/><circle cx="1480.7" cy="973.7" r="5.2"/><circle cx="1515.6" cy="973.7" r="5.2"/><circle cx="1498.6" cy="987.7" r="5.2"/><circle cx="1480.7" cy="994.8" r="5.2"/><circle cx="1515.6" cy="994.8" r="5.2"/></g>
<path class="br" d="M1430.2,818V804.1H1497.4V859.3"/>
<text x="1460.6" y="802.5" font-size="20" font-weight="bold" text-anchor="middle">*</text>
<text x="1468" y="817.5" font-size="11" text-anchor="middle"><tspan font-style="italic">P</tspan>=0.0149</text>
<g class="it" font-size="23" text-anchor="end">
<text transform="translate(1440,1045) rotate(-45)">Ppara lox/lox</text>
<text transform="translate(1507,1045) rotate(-45)">Ppara<tspan font-style="normal"> I-KO</tspan></text>
</g>

<!-- ================= PANEL O ================= -->
<text x="0" y="1092" class="pl">o</text>
<!-- histology 1 -->
<svg x="59.5" y="1091.3" width="188.1" height="385.7" viewBox="15 20 712 1460" preserveAspectRatio="none">
<rect x="15" y="20" width="712" height="1460" fill="#fcfbfd"/>
<polygon fill="url(#he)" points="15,60 60,80 100,70 130,100 160,90 200,120 235,190 240,240 275,215 320,205 380,215 420,250 445,290 470,300 520,300 545,330 550,270 575,240 600,250 620,300 650,400 680,420 700,300 727,290 727,1340 600,1300 450,1260 300,1220 150,1190 15,1160"/>
<g stroke="#fcfbfd" stroke-linecap="round" fill="none">
<path d="M205,380L198,1000" stroke-width="10"/>
<path d="M300,350L287,1060" stroke-width="8"/>
<path d="M420,330L410,700" stroke-width="14"/>
<path d="M560,330L577,1080" stroke-width="12"/>
<path d="M672,430L690,1040" stroke-width="14"/>
<path d="M130,470L80,860" stroke-width="28"/>
<path d="M350,700L345,1050" stroke-width="5"/>
</g>
<polygon fill="#7d55a8" opacity="0.28" points="15,980 727,1060 727,1220 15,1120"/>
<polygon fill="#eedbeb" points="15,1120 727,1240 727,1290 15,1155"/>
<polygon fill="#d995c4" points="15,1150 727,1285 727,1345 15,1195"/>
<path d="M515,310L442,1010" stroke="#111" stroke-width="8" fill="none"/>
<path d="M575,240Q625,480 630,1100" stroke="#111" stroke-width="9" fill="none"/>
<rect x="245" y="1403" width="355" height="22" fill="#111"/>
</svg>
<rect x="59.5" y="1091.3" width="188.1" height="385.7" fill="none" stroke="#444" stroke-width="0.9"/>
<!-- histology 2 -->
<svg x="264.2" y="1091.3" width="184.7" height="385.7" viewBox="790 20 699 1460" preserveAspectRatio="none">
<rect x="790" y="20" width="699" height="1460" fill="#fcfbfd"/>
<polygon fill="url(#he)" opacity="0.8" points="790,20 850,20 865,110 800,150 790,140"/>
<polygon fill="url(#he)" opacity="0.75" points="800,300 850,280 920,290 975,330 985,380 950,420 880,430 810,430"/>
<polygon fill="url(#he)" opacity="0.5" points="820,160 880,150 930,180 900,230 830,240"/>
<polygon fill="url(#he)" points="790,450 830,450 860,520 900,470 960,460 1000,510 1030,470 1060,460 1100,480 1120,500 1160,470 1200,460 1240,480 1280,470 1310,460 1350,470 1390,470 1420,490 1440,570 1470,560 1489,580 1489,1240 1300,1230 1100,1215 900,1205 790,1200"/>
<g stroke="#fcfbfd" stroke-linecap="round" fill="none">
<path d="M1000,520L830,1060" stroke-width="12"/>
<path d="M1165,485L1160,1130" stroke-width="10"/>
<path d="M1290,485L1282,1130" stroke-width="8"/>
<path d="M1445,890L1425,1100" stroke-width="8"/>
<path d="M820,620L800,900" stroke-width="14"/>
<path d="M1040,520L1030,820" stroke-width="5"/>
</g>
<polygon fill="#7d55a8" opacity="0.28" points="790,1060 1489,1090 1489,1200 790,1180"/>
<polygon fill="#eedbeb" points="790,1180 1489,1200 1489,1245 790,1210"/>
<polygon fill="#d995c4" points="790,1205 1489,1240 1489,1292 790,1252"/>
<path d="M1093,470Q1090,820 920,1120" stroke="#111" stroke-width="8" fill="none"/>
<path d="M1363,462L1312,1120" stroke="#111" stroke-width="8" fill="none"/>
<rect x="1005" y="1403" width="358" height="22" fill="#111"/>
</svg>
<rect x="264.2" y="1091.3" width="184.7" height="385.7" fill="none" stroke="#444" stroke-width="0.9"/>
<text x="241.8" y="1112.4" font-size="20.3" class="it" text-anchor="end">Ppara lox/lox</text>
<text x="443.9" y="1112.4" font-size="20.3" text-anchor="end"><tspan font-style="italic">Ppara</tspan> I-KO</text>
<!-- chart o -->
<text transform="translate(546.8,1273) rotate(-90)" text-anchor="middle" font-size="32">Jejunum - villus length (µm)</text>
<path class="ax" d="M611.7,1133.1V1419.7M606.2,1133.4h5.5M606.2,1190.6h5.5M606.2,1247.9h5.5M606.2,1305.2h5.5M606.2,1362.4h5.5M606.2,1419.7h5.5M604,1419.7H792.6M679.7,1419.7v10M761,1419.7v10"/>
<g font-size="28" text-anchor="end"><text x="604" y="1143.4">550</text><text x="604" y="1200.6">500</text><text x="604" y="1257.9">450</text><text x="604" y="1315.2">400</text><text x="604" y="1372.4">350</text><text x="604" y="1429.7">300</text></g>
<rect class="g" x="653.1" y="1262.8" width="53.1" height="156.9"/><rect class="w" x="734.5" y="1317.8" width="53.1" height="101.9"/>
<path class="e" d="M679.7,1306.3V1217M668.7,1217h22M668.7,1306.3h22M761,1365.9V1268.5M750,1268.5h22M750,1365.9h22"/>
<g class="f"><circle cx="700.1" cy="1196.1" r="6.3"/><circle cx="679.9" cy="1204" r="6.3"/><circle cx="700.1" cy="1221.3" r="6.3"/><circle cx="657.2" cy="1232.3" r="6.3"/><circle cx="679.9" cy="1238.6" r="6.3"/><circle cx="657.2" cy="1268.5" r="6.3"/><circle cx="679.9" cy="1268.5" r="6.3"/><circle cx="700.1" cy="1268.5" r="6.3"/><circle cx="657.2" cy="1287.4" r="6.3"/><circle cx="679.9" cy="1281.1" r="6.3"/><circle cx="700.1" cy="1287.4" r="6.3"/><circle cx="679.9" cy="1348.9" r="6.3"/></g>
<g class="o"><circle cx="753.2" cy="1256.9" r="6"/><circle cx="768.4" cy="1256.9" r="6"/><circle cx="740.6" cy="1279.6" r="6"/><circle cx="763.3" cy="1282.7" r="6"/><circle cx="781" cy="1279.6" r="6"/><circle cx="753.2" cy="1289" r="6"/><circle cx="768.4" cy="1289" r="6"/><circle cx="760.8" cy="1320.5" r="6"/><circle cx="760.8" cy="1339.4" r="6"/><circle cx="760.8" cy="1351.4" r="6"/><circle cx="753.2" cy="1365.2" r="6"/><circle cx="768.4" cy="1365.2" r="6"/><circle cx="760.8" cy="1381.9" r="6"/><circle cx="760.8" cy="1405.6" r="6"/></g>
<path class="br" d="M679.7,1171V1158.3H761V1226.6"/>
<text x="720.3" y="1161" font-size="25" font-weight="bold" text-anchor="middle">**</text>
<text x="720" y="1175.6" font-size="14" text-anchor="middle"><tspan font-style="italic">P</tspan>=0.0087</text>
<g class="it" font-size="27" text-anchor="end">
<text transform="translate(693,1445) rotate(-45)">Ppara lox/lox</text>
<text transform="translate(772,1445) rotate(-45)">Ppara<tspan font-style="normal"> I-KO</tspan></text>
</g>
</svg>
</body></html>
